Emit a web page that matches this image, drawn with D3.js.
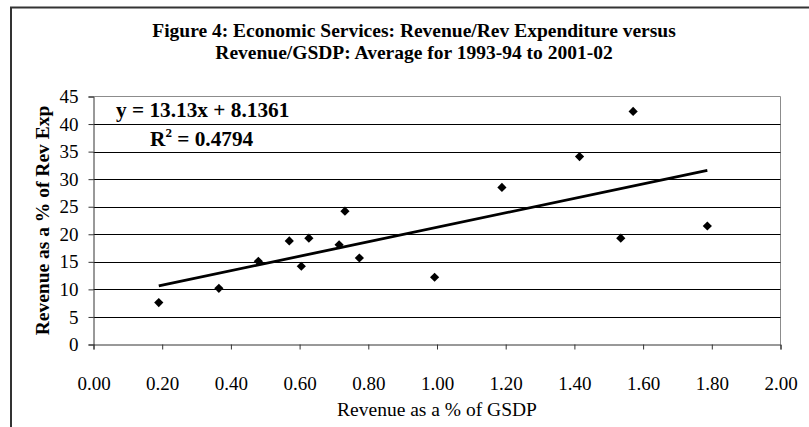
<!DOCTYPE html>
<html>
<head>
<meta charset="utf-8">
<script src="https://cdn.jsdelivr.net/npm/d3@7"></script>
<style>
  html, body { margin: 0; padding: 0; background: #fff; }
  svg { display: block; }
  text { font-family: "Liberation Serif", "Times New Roman", serif; fill: #000; }
</style>
</head>
<body>
<svg id="chart" width="809" height="427"></svg>
<script>
// Revenue / GSDP (%) and Revenue / Revenue Expenditure (%) by state, averages 1993-94 to 2001-02
const revenueGsdp = [0.19, 0.365, 0.48, 0.57, 0.605, 0.627, 0.715, 0.732, 0.774, 0.993, 1.189, 1.415, 1.535, 1.571, 1.787];
const revenueRevExp = [7.6, 10.2, 15.1, 18.8, 14.2, 19.3, 18.1, 24.2, 15.7, 12.2, 28.5, 34.1, 19.3, 42.3, 21.5];

const xTicks = [0, 0.2, 0.4, 0.6, 0.8, 1.0, 1.2, 1.4, 1.6, 1.8, 2.0];
const yTicks = [0, 5, 10, 15, 20, 25, 30, 35, 40, 45];

// Linear trend reported on the chart
const slope = 13.13;
const intercept = 8.1361;
const rSquared = "0.4794";

const titleLines = [
  "Figure 4: Economic Services: Revenue/Rev Expenditure versus",
  "Revenue/GSDP: Average for 1993-94 to 2001-02"
];

const svg = d3.select("#chart");
const plot = { left: 93.5, right: 780.5, top: 96.5, bottom: 344.5 };
const serif = "'Liberation Serif', 'Times New Roman', serif";

const x = d3.scaleLinear().domain([0, 2]).range([plot.left, plot.right]);
const y = d3.scaleLinear().domain([0, 45]).range([plot.bottom, plot.top]);

// Outer chart frame (top and left edges visible)
svg.append("path")
  .attr("d", "M11,430 V7.5 H812")
  .attr("fill", "none")
  .attr("stroke", "#333")
  .attr("stroke-width", 2);

// Title
svg.append("g").selectAll("text")
  .data(titleLines)
  .join("text")
  .attr("x", 414)
  .attr("y", (d, i) => 37 + i * 22)
  .attr("text-anchor", "middle")
  .attr("font-weight", "bold")
  .attr("font-size", 19.5)
  .text(d => d);

// Plot area border (top and right in grey)
svg.append("path")
  .attr("d", `M${plot.left},${plot.top} H${plot.right} V${plot.bottom}`)
  .attr("fill", "none")
  .attr("stroke", "#8c8c8c")
  .attr("stroke-width", 1);

// Horizontal gridlines
svg.append("g").selectAll("line")
  .data(yTicks.filter(v => v > 0 && v < 45))
  .join("line")
  .attr("x1", plot.left).attr("x2", plot.right)
  .attr("y1", d => Math.round(y(d)) + 0.5).attr("y2", d => Math.round(y(d)) + 0.5)
  .attr("stroke", "#000")
  .attr("stroke-width", 1);

// Y axis
const yAxis = svg.append("g")
  .attr("transform", `translate(${plot.left},0)`)
  .call(d3.axisLeft(y).tickValues(yTicks).tickSize(5).tickPadding(10).tickFormat(d3.format("d")));
yAxis.select(".domain").attr("stroke", "#333");
yAxis.selectAll(".tick line").attr("stroke", "#333");
yAxis.selectAll("text")
  .attr("font-family", serif)
  .attr("font-size", 19)
  .attr("fill", "#000");

// X axis
const xAxis = svg.append("g")
  .attr("transform", `translate(0,${plot.bottom})`)
  .call(d3.axisBottom(x).tickValues(xTicks).tickSize(5).tickPadding(27).tickFormat(d3.format(".2f")));
xAxis.select(".domain").attr("stroke", "#333");
xAxis.selectAll(".tick line").attr("stroke", "#333");
xAxis.selectAll("text")
  .attr("font-family", serif)
  .attr("font-size", 19)
  .attr("fill", "#000");

// Axis titles
svg.append("text")
  .attr("x", 437)
  .attr("y", 416)
  .attr("text-anchor", "middle")
  .attr("font-size", 19.5)
  .text("Revenue as a % of GSDP");

svg.append("text")
  .attr("transform", `translate(49,${(plot.top + plot.bottom) / 2}) rotate(-90)`)
  .attr("text-anchor", "middle")
  .attr("font-weight", "bold")
  .attr("font-size", 19.5)
  .text("Revenue as a % of Rev Exp");

// Trend line across the observed range
const xMin = d3.min(revenueGsdp), xMax = d3.max(revenueGsdp);
svg.append("line")
  .attr("x1", x(xMin)).attr("y1", y(slope * xMin + intercept))
  .attr("x2", x(xMax)).attr("y2", y(slope * xMax + intercept))
  .attr("stroke", "#000")
  .attr("stroke-width", 2.8);

// Data points as diamonds
const points = revenueGsdp.map((v, i) => ({ gx: v, ry: revenueRevExp[i] }));
const r = 4.6;
svg.append("g").selectAll("path")
  .data(points)
  .join("path")
  .attr("d", d => {
    const cx = x(d.gx), cy = y(d.ry);
    return `M${cx},${cy - r} L${cx + r},${cy} L${cx},${cy + r} L${cx - r},${cy} Z`;
  })
  .attr("fill", "#000");

// Regression equation and R²
svg.append("text")
  .attr("x", 116)
  .attr("y", 117)
  .attr("font-weight", "bold")
  .attr("font-size", 21.3)
  .text(`y = ${slope}x + ${intercept}`);

const r2 = svg.append("text")
  .attr("x", 150)
  .attr("y", 146)
  .attr("font-weight", "bold")
  .attr("font-size", 21.3);
r2.append("tspan").text("R");
r2.append("tspan").attr("font-size", 13).attr("dy", -9).text("2");
r2.append("tspan").attr("dy", 9).text(` = ${rSquared}`);
</script>
</body>
</html>
